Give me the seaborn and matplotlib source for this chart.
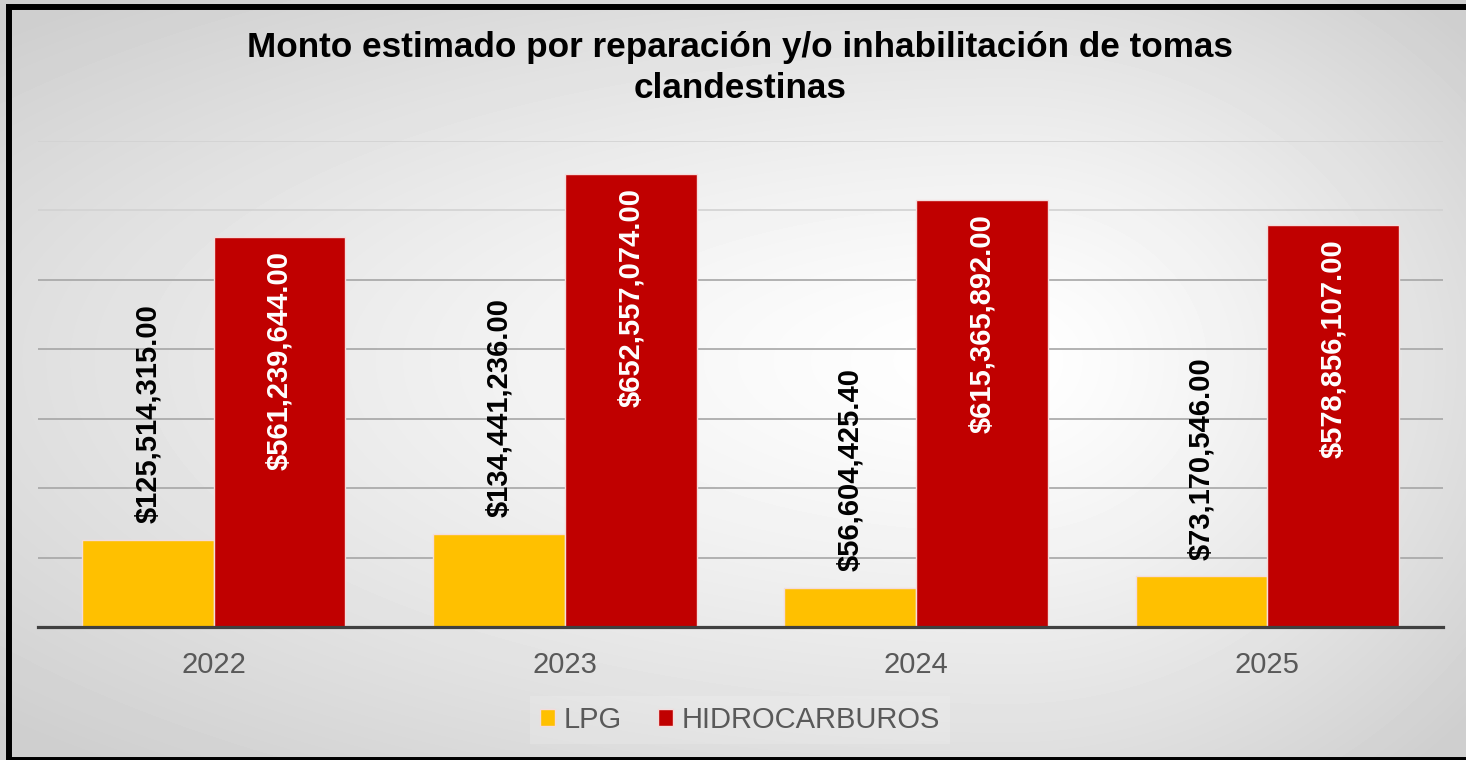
import numpy as np
import pandas as pd
import matplotlib
matplotlib.use("Agg")
import matplotlib.pyplot as plt
from matplotlib.patches import Rectangle
import seaborn as sns

# Chart data
years = ['2022', '2023', '2024', '2025']
lpg = [125514315.00, 134441236.00, 56604425.40, 73170546.00]
hidrocarburos = [561239644.00, 652557074.00, 615365892.00, 578856107.00]
series_names = ['LPG', 'HIDROCARBUROS']
y_ticks = [0, 100e6, 200e6, 300e6, 400e6, 500e6, 600e6, 700e6]
title = 'Monto estimado por reparación y/o inhabilitación de tomas\nclandestinas'

df = pd.DataFrame({
    'Año': years * 2,
    'Serie': [series_names[0]] * len(years) + [series_names[1]] * len(years),
    'Monto': lpg + hidrocarburos,
})

sns.set_style('white')
plt.rcParams['font.family'] = ['Liberation Sans', 'DejaVu Sans']

W, H = 1466, 760
fig = plt.figure(figsize=(W / 100, H / 100), dpi=100)

# radial grey-to-white background like the Excel chart area
bg_ax = fig.add_axes([0, 0, 1, 1], zorder=-10)
xx, yy = np.meshgrid(np.arange(W), np.arange(H))
cx, cy = 1010, 360
rx = np.where(xx < cx, cx, W - cx) * 1.0
ry = np.where(yy < cy, cy, H - cy) * 1.0
d = np.sqrt(((xx - cx) / rx) ** 2 + ((yy - cy) / ry) ** 2)
shade = 1.0 - 0.19 * np.clip(d / 1.35, 0, 1) ** 1.3
bg_ax.imshow(shade, cmap='gray', vmin=0, vmax=1, aspect='auto', extent=(0, W, H, 0))
bg_ax.axis('off')

ax = fig.add_axes([38 / W, 133 / H, (1443 - 38) / W, (627 - 141) / H])
ax.set_facecolor('none')

palette = {'LPG': '#FFC000', 'HIDROCARBUROS': '#C00000'}
sns.barplot(data=df, x='Año', y='Monto', hue='Serie', hue_order=series_names,
            palette=palette, width=0.75, gap=0, edgecolor='#f4dcdc', linewidth=1,
            saturation=1, ax=ax, zorder=3)

ax.set_xlim(-0.5, len(years) - 0.5)
ax.set_ylim(0, 700e6)
ax.set_yticks(y_ticks)
ax.set_yticklabels([])
ax.tick_params(axis='y', length=0)
ax.tick_params(axis='x', length=0, pad=17, labelsize=21, labelcolor='#595959')
ax.set_xlabel('')
ax.set_ylabel('')

ax.grid(axis='y', color='#a6a6a6', linewidth=1.2, zorder=0)
ax.set_axisbelow(True)
for gl, val in zip(ax.get_ygridlines(), y_ticks):
    if val >= 600e6:
        gl.set_color('#d2d2d2')

for side in ['top', 'right', 'left']:
    ax.spines[side].set_visible(False)
ax.spines['bottom'].set_color('#404040')
ax.spines['bottom'].set_linewidth(2.3)
ax.spines['bottom'].set_zorder(5)

# value labels
for container, name in zip(ax.containers, series_names):
    for bar in container:
        val = bar.get_height()
        xc = bar.get_x() + bar.get_width() / 2
        if name == 'LPG':
            ax.annotate(f'${val:,.2f}', (xc, val), xytext=(0, 12), textcoords='offset points',
                        rotation=90, ha='center', va='bottom', fontsize=21,
                        fontweight='bold', color='black', zorder=6)
        else:
            ax.annotate(f'${val:,.2f}', (xc, val), xytext=(0, -10), textcoords='offset points',
                        rotation=90, ha='center', va='top', fontsize=21,
                        fontweight='bold', color='white', zorder=6)

fig.text(740 / W, 1 - 68 / H, title, ha='center', va='center', fontsize=25.3,
         fontweight='bold', color='black', linespacing=1.3)

handles, labels = ax.get_legend_handles_labels()
ax.legend(handles, labels, loc='center', bbox_to_anchor=(740 / W, 40 / H),
          bbox_transform=fig.transFigure, ncol=2, fontsize=21, frameon=True,
          fancybox=False, handlelength=0.5, handleheight=0.5, handletextpad=0.3,
          columnspacing=1.25, borderpad=0.35, labelcolor='#595959')
leg = ax.get_legend()
leg.get_frame().set_facecolor('white')
leg.get_frame().set_alpha(0.15)
leg.get_frame().set_edgecolor('none')

fig.patches.append(Rectangle((9 / W, 0.0), 1.2, (760 - 6.5) / H, transform=fig.transFigure,
                             fill=False, edgecolor='black', linewidth=4.3, zorder=20))

fig.savefig('out.png', dpi=100)
